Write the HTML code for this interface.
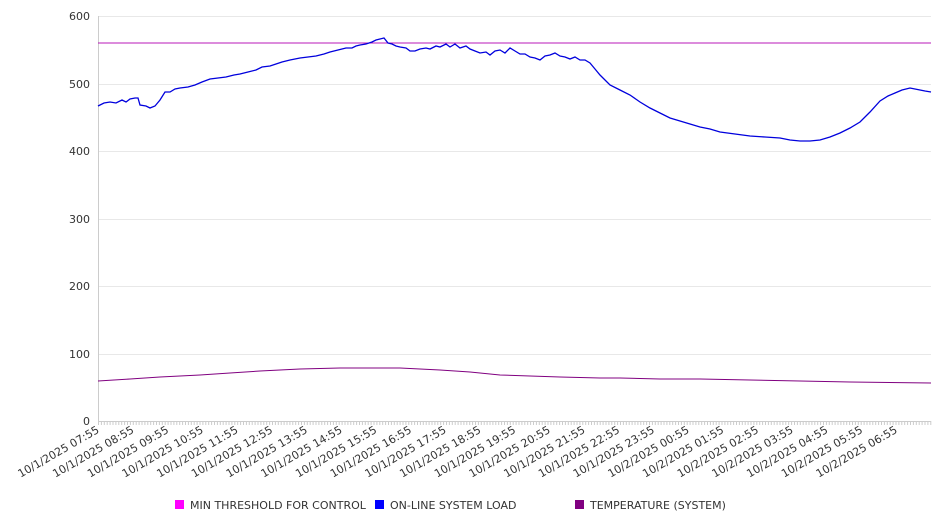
<!DOCTYPE html>
<html><head><meta charset="utf-8"><style>
body{margin:0;background:#fff;}
svg{display:block;font-family:"DejaVu Sans","Liberation Sans",sans-serif;}
</style></head><body>
<svg width="946" height="526" viewBox="0 0 946 526">
<g stroke="#e8e8e8" stroke-width="1">
<line x1="98" y1="16.5" x2="931" y2="16.5"/><line x1="98" y1="84.5" x2="931" y2="84.5"/>
<line x1="98" y1="151.5" x2="931" y2="151.5"/><line x1="98" y1="219.5" x2="931" y2="219.5"/>
<line x1="98" y1="286.5" x2="931" y2="286.5"/><line x1="98" y1="354.5" x2="931" y2="354.5"/>
</g>
<line x1="98.5" y1="16" x2="98.5" y2="421" stroke="#ccc"/>
<line x1="98" y1="421.5" x2="931" y2="421.5" stroke="#ccc"/>
<g id="ticks" stroke="#ccc"></g>
<g font-size="11" fill="#333" text-anchor="end">
<text x="90" y="20">600</text><text x="90" y="88">500</text><text x="90" y="155">400</text>
<text x="90" y="223">300</text><text x="90" y="290">200</text><text x="90" y="358">100</text><text x="90" y="425">0</text>
</g>
<g font-size="11" fill="#333" text-anchor="end">
<text transform="translate(100,432) rotate(-30)">10/1/2025 07:55</text>
<text transform="translate(134.7,432) rotate(-30)">10/1/2025 08:55</text>
<text transform="translate(169.4,432) rotate(-30)">10/1/2025 09:55</text>
<text transform="translate(204.1,432) rotate(-30)">10/1/2025 10:55</text>
<text transform="translate(238.8,432) rotate(-30)">10/1/2025 11:55</text>
<text transform="translate(273.5,432) rotate(-30)">10/1/2025 12:55</text>
<text transform="translate(308.2,432) rotate(-30)">10/1/2025 13:55</text>
<text transform="translate(342.9,432) rotate(-30)">10/1/2025 14:55</text>
<text transform="translate(377.6,432) rotate(-30)">10/1/2025 15:55</text>
<text transform="translate(412.3,432) rotate(-30)">10/1/2025 16:55</text>
<text transform="translate(447,432) rotate(-30)">10/1/2025 17:55</text>
<text transform="translate(481.7,432) rotate(-30)">10/1/2025 18:55</text>
<text transform="translate(516.4,432) rotate(-30)">10/1/2025 19:55</text>
<text transform="translate(551.1,432) rotate(-30)">10/1/2025 20:55</text>
<text transform="translate(585.8,432) rotate(-30)">10/1/2025 21:55</text>
<text transform="translate(620.5,432) rotate(-30)">10/1/2025 22:55</text>
<text transform="translate(655.2,432) rotate(-30)">10/1/2025 23:55</text>
<text transform="translate(689.9,432) rotate(-30)">10/2/2025 00:55</text>
<text transform="translate(724.6,432) rotate(-30)">10/2/2025 01:55</text>
<text transform="translate(759.3,432) rotate(-30)">10/2/2025 02:55</text>
<text transform="translate(794,432) rotate(-30)">10/2/2025 03:55</text>
<text transform="translate(828.7,432) rotate(-30)">10/2/2025 04:55</text>
<text transform="translate(863.4,432) rotate(-30)">10/2/2025 05:55</text>
<text transform="translate(898.1,432) rotate(-30)">10/2/2025 06:55</text>
</g>
<line x1="98" y1="43" x2="931" y2="43" stroke="#b818b8" stroke-width="1"/>
<polyline fill="none" stroke="#0000dd" stroke-width="1.3" points="98,106 104,103 110,102 116,103 122,100 126,102 130,99 135,98 138,98 140,105 146,106 150,108 155,106 160,100 165,92 170,92 175,89 180,88 188,87 195,85 202,82 210,79 218,78 226,77 234,75 240,74 248,72 256,70 262,67 270,66 276,64 282,62 290,60 300,58 308,57 316,56 324,54 330,52 338,50 346,48 352,48 356,46 360,45 366,44 372,42 376,40 380,39 384,38 388,43 392,44 396,46 400,47 406,48 410,51 415,51 420,49 426,48 430,49 436,46 440,47 446,44 450,47 455,44 460,48 466,46 470,49 475,51 480,53 486,52 490,55 495,51 500,50 505,53 510,48 515,51 520,54 525,54 530,57 535,58 540,60 545,56 550,55 555,53 560,56 565,57 570,59 575,57 580,60 585,60 590,63 595,69 600,75 605,80 610,85 620,90 630,95 640,102 650,108 660,113 670,118 680,121 690,124 700,127 710,129 720,132 735,134 750,136 765,137 780,138 790,140 800,141 810,141 820,140 830,137 840,133 850,128 860,122 870,112 880,101 888,96 895,93 902,90 910,88 920,90 925,91 931,92"/>
<polyline fill="none" stroke="#800080" stroke-width="1" points="98,381 130,379 160,377 200,375 230,373 260,371 300,369 340,368 380,368 400,368 440,370 470,372 500,375 530,376 560,377 600,378 620,378 660,379 700,379 750,380 800,381 850,382 931,383"/>
<g font-size="11" fill="#333">
<rect x="175" y="500" width="9" height="9" fill="#ff00ff"/><text x="190" y="509">MIN THRESHOLD FOR CONTROL</text>
<rect x="375" y="500" width="9" height="9" fill="#0000ff"/><text x="390" y="509">ON-LINE SYSTEM LOAD</text>
<rect x="575" y="500" width="9" height="9" fill="#800080"/><text x="590" y="509">TEMPERATURE (SYSTEM)</text>
</g>
<script>
var g=document.getElementById('ticks'),d='';
for(var x=98.5;x<=931;x+=2.9){d+='M'+x.toFixed(1)+' 421v4';}
var p=document.createElementNS('http://www.w3.org/2000/svg','path');p.setAttribute('d',d);p.setAttribute('stroke','#ccc');g.appendChild(p);
</script>
</svg>
</body></html>
